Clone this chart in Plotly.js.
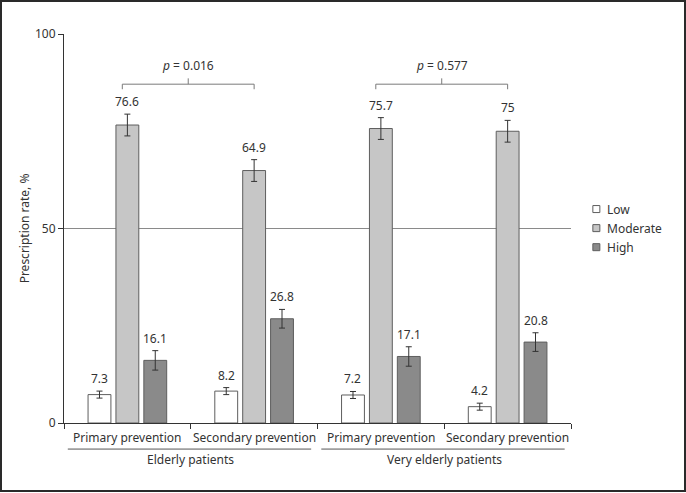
<!DOCTYPE html>
<html>
<head>
<meta charset="utf-8">
<script src="https://cdn.plot.ly/plotly-3.0.1.min.js"></script>
<style>
  html, body { margin: 0; padding: 0; background: #fff; }
  #wrap { position: relative; width: 686px; height: 493px; }
  #chart { width: 686px; height: 493px; }
  #frame { position: absolute; left: 0; top: 0; width: 686px; height: 492px; box-sizing: border-box;
           border: 2px solid #2a2a2a; pointer-events: none; }
</style>
</head>
<body>
<div id="wrap"><div id="chart"></div><div id="frame"></div></div>
<script>
// ---- data ----
const categories = ["Primary prevention", "Secondary prevention", "Primary prevention ", "Secondary prevention "];
const tickLabels = ["Primary prevention", "Secondary prevention", "Primary prevention", "Secondary prevention"];
const groups = ["Elderly patients", "Very elderly patients"];
const seriesNames = ["Low", "Moderate", "High"];
const lowValues = [7.3, 8.2, 7.2, 4.2];
const moderateValues = [76.6, 64.9, 75.7, 75];
const highValues = [16.1, 26.8, 17.1, 20.8];
const lowErrors = [0.9, 0.9, 0.9, 0.9];
const moderateErrors = [2.8, 2.8, 2.8, 2.8];
const highErrors = [2.5, 2.4, 2.5, 2.4];
const pValues = ["0.016", "0.577"];

// ---- style ----
const fills = ["#ffffff", "#c6c6c6", "#8a8a8a"];
const lineCol = "#5e5e5e";
const textCol = "#333333";
const font = "Noto Sans, Open Sans, sans-serif";
const bargap = 0.34, bargroupgap = 0.18;
const slot = (1 - bargap) / 3;

const values = [lowValues, moderateValues, highValues];
const errors = [lowErrors, moderateErrors, highErrors];
const idx = categories.map((_, i) => i);

const traces = values.map((vals, s) => ({
  type: "bar",
  name: seriesNames[s],
  x: idx,
  y: vals,
  showlegend: false,
  marker: { color: fills[s], line: { color: lineCol, width: 1 } },
  error_y: { type: "data", array: errors[s], visible: true, color: "#333", thickness: 1, width: 3 },
  hoverinfo: "skip"
}));

const annotations = [];
const shapes = [];
values.forEach((vals, s) => {
  vals.forEach((v, i) => {
    annotations.push({
      x: i + (s - 1) * slot, y: v + errors[s][i], xref: "x", yref: "y",
      text: String(v), showarrow: false, yanchor: "bottom", yshift: 2,
      font: { family: font, size: 12, color: textCol }
    });
  });
});

// legend (drawn in paper space)
const legX = 1.05, legY0 = 0.550, legStep = 0.049, hw = 0.0069, hh = 0.009;
seriesNames.forEach((n, s) => {
  const yc = legY0 - s * legStep;
  shapes.push({ type: "rect", xref: "paper", yref: "paper", x0: legX - hw, x1: legX + hw, y0: yc - hh, y1: yc + hh,
                fillcolor: fills[s], line: { color: lineCol, width: 1 } });
  annotations.push({ x: legX + 0.017, y: yc, xref: "paper", yref: "paper", text: n, showarrow: false,
                     xanchor: "left", yanchor: "middle", font: { family: font, size: 12, color: textCol } });
});

// group labels and underlines
groups.forEach((g, k) => {
  const a = 2 * k, b = 2 * k + 1;
  annotations.push({
    x: (a + b) / 2, y: -0.095, xref: "x", yref: "paper", text: g, showarrow: false,
    yanchor: "middle", font: { family: font, size: 12, color: textCol }
  });
  shapes.push({ type: "line", xref: "x", yref: "paper", x0: a - 0.47, x1: b + 0.45, y0: -0.067, y1: -0.067,
                line: { color: "#555", width: 1 } });
});

// significance brackets between moderate bars
const brY = 87.1;
pValues.forEach((p, k) => {
  const a = 2 * k - 0.04, b = 2 * k + 1.0;
  const mid = (a + b) / 2;
  const c = { color: "#7a7a7a", width: 1 };
  shapes.push({ type: "line", xref: "x", yref: "y", x0: a, x1: b, y0: brY, y1: brY, line: c });
  shapes.push({ type: "line", xref: "x", yref: "y", x0: a, x1: a, y0: brY, y1: brY - 1.3, line: c });
  shapes.push({ type: "line", xref: "x", yref: "y", x0: b, x1: b, y0: brY, y1: brY - 1.3, line: c });
  shapes.push({ type: "line", xref: "x", yref: "y", x0: mid, x1: mid, y0: brY, y1: brY + 1.5, line: c });
  annotations.push({
    x: mid, y: 91.8, xref: "x", yref: "y", text: "<i>p</i> = " + p, showarrow: false,
    yanchor: "middle", font: { family: font, size: 12, color: textCol }
  });
});

tickLabels.forEach((t, i) => {
  annotations.push({ x: i, y: -0.038, xref: "x", yref: "paper", text: t, showarrow: false, yanchor: "middle",
                     font: { family: font, size: 12, color: textCol } });
});

const layout = {
  width: 686, height: 493,
  margin: { l: 64, r: 115, t: 34, b: 70, autoexpand: false },
  paper_bgcolor: "#fff", plot_bgcolor: "#fff",
  font: { family: font, size: 12, color: textCol },
  barmode: "group", bargap: bargap, bargroupgap: bargroupgap,
  showlegend: false,
  xaxis: {
    type: "linear", range: [-0.5, 3.5], tickmode: "array",
    tickvals: [-0.5, 0.5, 1.5, 2.5, 3.5], ticktext: ["", "", "", "", ""],
    ticks: "outside", ticklen: 5, tickcolor: "#333", showline: true, linecolor: "#333", linewidth: 1,
    showgrid: false, zeroline: false, fixedrange: true
  },
  yaxis: {
    range: [0, 100], tickvals: [0, 50, 100], ticks: "outside", ticklen: 5, tickcolor: "#333",
    showline: true, linecolor: "#333", linewidth: 1, showgrid: true, gridcolor: "#8a8a8a", gridwidth: 1,
    zeroline: false, tickfont: { family: font, size: 12, color: textCol },
    title: { text: "Prescription rate, %", font: { family: font, size: 12, color: textCol }, standoff: 2 }
  },
  annotations: annotations,
  shapes: shapes
};

Plotly.newPlot("chart", traces, layout, { staticPlot: true, displayModeBar: false });
</script>
</body>
</html>
